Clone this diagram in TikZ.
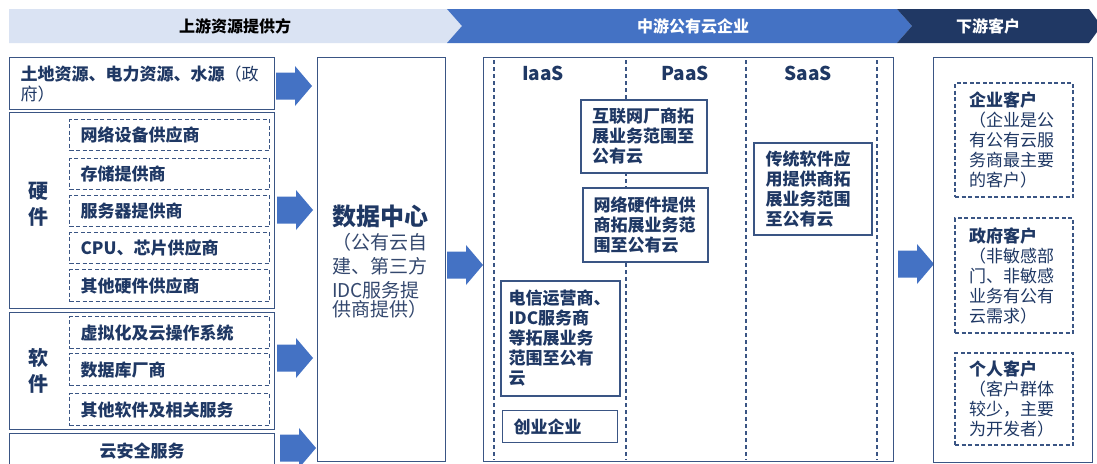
\documentclass[tikz,border=0pt]{standalone}
\usepackage{fontspec}
\setmainfont{Noto Sans CJK SC}
\definecolor{hlight}{HTML}{DAE3F3}
\definecolor{hblue}{HTML}{4472C4}
\definecolor{hdark}{HTML}{203864}
\definecolor{bd}{HTML}{3A5584}
\definecolor{tx}{HTML}{1F3864}
\definecolor{tr}{HTML}{34486E}
\definecolor{af}{HTML}{4472C4}
\newcommand\blockarrow[2]{\fill[af] (#1,#2) ++(0,-13.5) -- ++(19,0) -- ++(0,-6.5) -- ++(17,20) -- ++(-17,20) -- ++(0,-6.5) -- ++(-19,0) -- cycle;}
\tikzset{
  box/.style={draw=bd, line width=1.4pt, fill=white, text=tx},
  dbox/.style={draw=bd, line width=1.1pt, dash pattern=on 4pt off 2.5pt, fill=white, text=tx},
  bfs/.style={font=\fontsize{17}{20}\selectfont\bfseries},
  rgs/.style={font=\fontsize{17}{20}\selectfont},
  sub/.style={dbox, bfs, anchor=north west, minimum width=200pt, minimum height=31pt, text width=178pt, inner xsep=11pt, inner ysep=0pt, align=left},
  hdrtxt/.style={font=\fontsize{16}{18}\selectfont\bfseries},
  colhdr/.style={font=\fontsize{19}{22}\selectfont\bfseries, text=tx},
  dline/.style={draw=bd, line width=1.1pt, dash pattern=on 4pt off 3pt},
  cust/.style={dbox, rgs, minimum width=118pt, text width=90pt, align=left, inner sep=0pt},
  mbox/.style={box, bfs, align=left, inner sep=0pt}
}
\begin{document}
\begin{tikzpicture}[x=1pt,y=-1pt]
\useasboundingbox (0,0) rectangle (1097,463);
\fill[white] (0,0) rectangle (1097,463);
% header
\fill[hlight] (9,9) -- (447,9) -- (462,26) -- (447,43) -- (9,43) -- cycle;
\fill[hblue] (447,9) -- (897,9) -- (912,26) -- (897,43) -- (447,43) -- (462,26) -- cycle;
\fill[hdark] (897,9) -- (1089,9) -- (1097,20) -- (1097,32) -- (1089,43) -- (897,43) -- (912,26) -- cycle;
\node[hdrtxt, text=black] (h1) at (235,26) {上游资源提供方};
\node[hdrtxt, text=white] (h2) at (693,26) {中游公有云企业};
\node[hdrtxt, text=white] (h3) at (988,26) {下游客户};
% left column
\node[box, anchor=north west, minimum width=265pt, minimum height=52pt, text width=243pt, inner xsep=11pt, align=left, rgs] (land) at (9,57) {\textbf{土地资源、电力资源、水源}（政\\府）};
\node[box, anchor=north west, minimum width=265pt, minimum height=196pt] (hw) at (9,112) {};
\node[text=tx, font=\fontsize{20}{26}\selectfont\bfseries, align=center] (hwl) at (38,204) {硬\\件};
\node[sub] (n1) at (69,119) {网络设备供应商};
\node[sub] (n2) at (69,158) {存储提供商};
\node[sub] (n3) at (69,195) {服务器提供商};
\node[sub] (n4) at (69,232) {CPU、芯片供应商};
\node[sub, minimum height=32pt] (n5) at (69,269) {其他硬件供应商};
\node[box, anchor=north west, minimum width=265pt, minimum height=117pt] (sw) at (9,312) {};
\node[text=tx, font=\fontsize{20}{26}\selectfont\bfseries, align=center] (swl) at (38,371) {软\\件};
\node[sub, minimum height=32pt] (s1) at (69,316) {虚拟化及云操作系统};
\node[sub, minimum height=32pt] (s2) at (69,353) {数据库厂商};
\node[sub, minimum height=32pt] (s3) at (69,393) {其他软件及相关服务};
\node[box, bfs, anchor=north west, minimum width=265pt, minimum height=34pt] (sec) at (9,433) {云安全服务};
% arrows left
\blockarrow{276}{86}
\blockarrow{277}{210}
\blockarrow{277}{358}
\blockarrow{280}{448}
% data center
\node[box, anchor=north west, minimum width=128pt, minimum height=404pt] (dc) at (317,57) {};
\node[text=tr, align=left, text width=100pt, inner sep=0pt] (dct) at (382,262) {{\fontsize{24}{28}\selectfont\bfseries\color{tx}数据中心}\\\fontsize{19}{24}\selectfont （公有云自\\建、第三方\\IDC服务提\\供商提供）};
\blockarrow{447}{265}
% middle
\node[box, anchor=north west, minimum width=410pt, minimum height=404pt] (mid) at (483,57) {};
\draw[dline] (494,60) -- (494,460);
\draw[dline] (626,60) -- (626,460);
\draw[dline] (746,60) -- (746,460);
\draw[dline] (877,60) -- (877,460);
\node[colhdr] (iaas) at (543,73) {IaaS};
\node[colhdr] (paas) at (685,73) {PaaS};
\node[colhdr] (saas) at (808,73) {SaaS};
\node[mbox, minimum width=126pt, minimum height=73pt, text width=104pt] (inet) at (644,136.5) {互联网厂商拓\\展业务范围至\\公有云};
\node[mbox, minimum width=125pt, minimum height=74pt, text width=104pt] (nethw) at (645.5,225) {网络硬件提供\\商拓展业务范\\围至公有云};
\node[mbox, minimum width=118pt, minimum height=92pt, text width=95pt] (trad) at (813,189) {传统软件应\\用提供商拓\\展业务范围\\至公有云};
\node[mbox, minimum width=119pt, minimum height=115pt, text width=104pt] (tele) at (560.5,338.5) {电信运营商、\\IDC服务商\\等拓展业务\\范围至公有\\云};
\node[box, bfs, anchor=north west, minimum width=115pt, minimum height=32pt, text width=93pt, inner xsep=11pt, inner ysep=0pt, align=left] (start) at (502,410) {创业企业};
\blockarrow{898}{264}
% right
\node[box, anchor=north west, minimum width=159pt, minimum height=405pt] (right) at (933,57) {};
\node[cust, minimum height=114pt] (ent) at (1014,140) {\textbf{企业客户}\\（企业是公\\有公有云服\\务商最主要\\的客户）};
\node[cust, minimum height=115pt] (gov) at (1014,275.5) {\textbf{政府客户}\\（非敏感部\\门、非敏感\\业务有公有\\云需求）};
\node[cust, minimum height=92pt] (per) at (1014,399) {\textbf{个人客户}\\（客户群体\\较少，主要\\为开发者）};
\end{tikzpicture}
\end{document}
